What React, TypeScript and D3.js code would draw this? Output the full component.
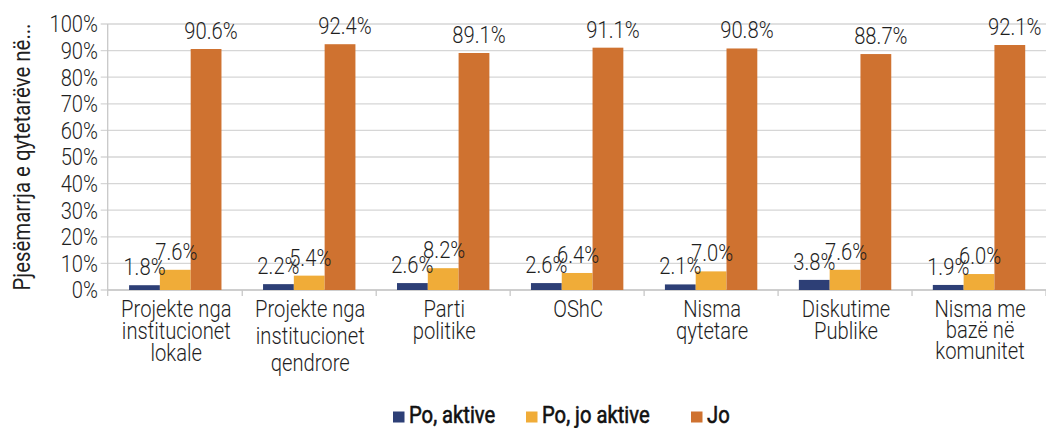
import React from "react";
import * as d3 from "d3";

const categories: string[][] = [
  ["Projekte nga", "institucionet", "lokale"],
  ["Projekte nga", "institucionet", "qendrore"],
  ["Parti", "politike"],
  ["OShC"],
  ["Nisma", "qytetare"],
  ["Diskutime", "Publike"],
  ["Nisma me", "bazë në", "komunitet"],
];
const seriesNames = ["Po, aktive", "Po, jo aktive", "Jo"];
const poAktive = [1.8, 2.2, 2.6, 2.6, 2.1, 3.8, 1.9];
const poJoAktive = [7.6, 5.4, 8.2, 6.4, 7.0, 7.6, 6.0];
const jo = [90.6, 92.4, 89.1, 91.1, 90.8, 88.7, 92.1];
const yTicks = [0, 10, 20, 30, 40, 50, 60, 70, 80, 90, 100];
const yTitle = "Pjesëmarrja e qytetarëve në...";

const colors = ["#2D3F76", "#F0AC38", "#CF7230"];
const FONT = "Roboto, 'Noto Sans', sans-serif";
const SX = 0.86;
const FS = 23.5;

type TProps = {
  x: number;
  y: number;
  anchor?: "start" | "middle" | "end";
  size?: number;
  weight?: number;
  fill?: string;
  strokeW?: number;
  children: React.ReactNode;
};
const T = ({ x, y, anchor = "middle", size = FS, weight = 300, fill = "#1f1f1f", strokeW = 0, children }: TProps) => (
  <text
    transform={`translate(${x},${y}) scale(${SX},1)`}
    textAnchor={anchor}
    fontSize={size}
    fontWeight={weight}
    fontFamily={FONT}
    fill={fill}
    stroke={strokeW ? fill : "none"}
    strokeWidth={strokeW}
  >
    {children}
  </text>
);

export default function App() {
  const W = 1046;
  const H = 428;
  const left = 107.7;
  const right = 1046;
  const top = 24;
  const bottom = 290;

  const series = [poAktive, poJoAktive, jo];
  const idx = categories.map((_, i) => i);

  const x0 = d3.scaleBand<number>().domain(idx).range([left + 0.6, right]).paddingInner(0).paddingOuter(0);
  const x1 = d3
    .scaleBand<number>()
    .domain([0, 1, 2])
    .range([0, x0.bandwidth()])
    .paddingInner(0)
    .paddingOuter(0.675);
  const y = d3.scaleLinear().domain([0, 100]).range([bottom, top]);

  const labelDx = [0, 1, 5];
  const lineH = [22, 27, 22, 22, 22, 22, 21];
  const legendX = [393, 526, 691];

  return (
    <svg width={W} height={H} style={{ position: "absolute", left: 0, top: 0, background: "#fff" }}>
      {yTicks.map((t) => (
        <line key={"g" + t} x1={left - 7} x2={right} y1={y(t)} y2={y(t)} stroke="#d6d6d6" strokeWidth={1.3} />
      ))}
      <line x1={left} x2={left} y1={top} y2={bottom + 6} stroke="#c8c8c8" strokeWidth={1.3} />
      <line x1={left} x2={right} y1={bottom} y2={bottom} stroke="#c8c8c8" strokeWidth={1.3} />
      {idx.map((i) => (
        <line
          key={"xt" + i}
          x1={x0(i)! + x0.bandwidth()}
          x2={x0(i)! + x0.bandwidth()}
          y1={bottom}
          y2={bottom + 6}
          stroke="#c8c8c8"
          strokeWidth={1.3}
        />
      ))}
      {yTicks.map((t) => (
        <T key={"yl" + t} x={98} y={y(t) + 8.3} anchor="end">
          {t}%
        </T>
      ))}
      <text
        transform={`translate(30,${(top + bottom) / 2}) rotate(-90)`}
        textAnchor="middle"
        fontSize={FS}
        fontWeight={400}
        fontFamily={FONT}
        fill="#1f1f1f"
        textLength={267}
        lengthAdjust="spacingAndGlyphs"
      >
        {yTitle}
      </text>
      {series.map((vals, s) =>
        vals.map((v, i) => (
          <rect
            key={`b${s}-${i}`}
            x={x0(i)! + x1(s)!}
            y={y(v)}
            width={x1.bandwidth()}
            height={bottom - y(v)}
            fill={colors[s]}
          />
        ))
      )}
      {series.map((vals, s) =>
        vals.map((v, i) => (
          <T key={`l${s}-${i}`} x={x0(i)! + x1(s)! + x1.bandwidth() / 2 + labelDx[s]} y={y(v) - 10}>
            {v.toFixed(1)}%
          </T>
        ))
      )}
      {categories.map((lines, i) =>
        lines.map((ln, j) => (
          <T key={`c${i}-${j}`} x={x0(i)! + x0.bandwidth() / 2 + 1} y={317 + j * lineH[i]}>
            {ln}
          </T>
        ))
      )}
      {seriesNames.map((n, s) => (
        <g key={"lg" + s}>
          <rect x={legendX[s]} y={411.5} width={11.5} height={11} fill={colors[s]} />
          <T x={legendX[s] + 16} y={423} anchor="start" weight={400} fill="#111" strokeW={0.6}>
            {n}
          </T>
        </g>
      ))}
    </svg>
  );
}
